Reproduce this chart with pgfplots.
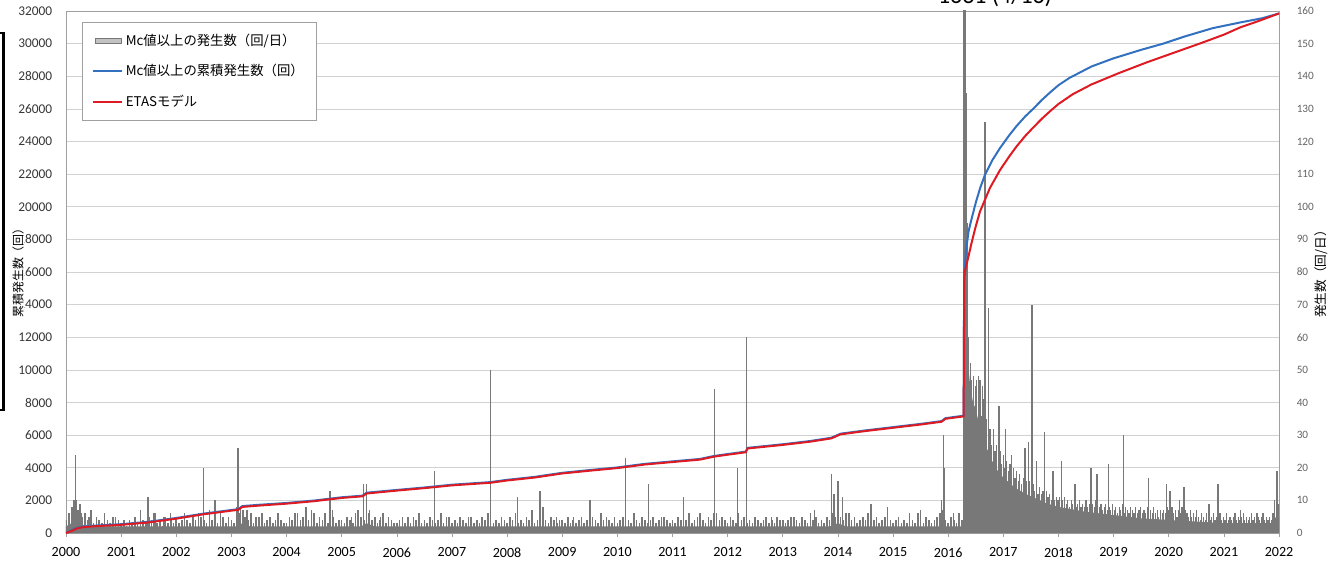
\documentclass[border=0pt]{standalone}
\usepackage{pgfplots}
\pgfplotsset{compat=1.18}
\usepackage{fontspec}
\setmainfont{Carlito}
\newfontfamily\jp{Noto Sans CJK JP}

\definecolor{barg}{RGB}{120,120,120}
\definecolor{obsblue}{RGB}{50,112,192}
\definecolor{etasred}{RGB}{222,26,34}
\definecolor{gridg}{RGB}{210,210,210}
\definecolor{frameg}{RGB}{160,160,160}
\definecolor{tickg}{RGB}{100,100,100}
\definecolor{darkg}{RGB}{55,55,55}

\pgfplotsset{
  base/.style={
    at={(0,0)}, anchor=south west,
    width=303.25mm, height=130.5mm, scale only axis,
    xmin=2000, xmax=2022,
    /pgf/number format/assume math mode=true,
    /pgf/number format/1000 sep={},
  },
  lineleg/.style={legend image code/.code={\draw[##1] (0mm,0mm) -- (7.25mm,0mm);}},
}

\begin{document}
\begin{tikzpicture}
\useasboundingbox (-16.5mm,-6.75mm) rectangle (319mm,133.25mm);

% daily counts (right axis)
\begin{axis}[base,
  ymin=0, ymax=160,
  xtick={2000,2001,...,2022}, ytick={0,10,...,160},
  xtick pos=left, ytick pos=right, yticklabel pos=right,
  tick align=outside, major tick length=1mm,
  ytick style={draw=none}, xtick style={draw=frameg, line width=0.4pt},
  axis line style={draw=frameg, line width=0.5pt},
  ymajorgrids, grid style={draw=gridg, line width=0.4pt},
  xticklabel style={font=\fontsize{10}{12}\selectfont, text=black, yshift=-1.4mm},
  yticklabel style={font=\fontsize{8}{10}\selectfont, text=tickg, xshift=2.2mm},
]
% solid mass of daily bars
\addplot[fill=barg, draw=none] coordinates {
  (2000,2)(2000.15,3.5)(2000.3,2.5)(2000.5,2)(2003.1,2)(2003.2,3)(2003.35,2)
  (2005.35,2)(2005.45,3)(2005.6,2)(2013.85,2)(2014.0,3)(2014.15,2)
  (2016.27,2)(2016.30,85)(2016.33,62)(2016.36,52)(2016.40,45)(2016.45,40)
  (2016.50,38)(2016.55,34)(2016.60,31)(2016.65,28)(2016.70,26)(2016.80,22)
  (2016.90,19)(2017.00,17)(2017.20,14)(2017.40,12)(2017.60,10.5)(2017.80,9)
  (2018.00,8)(2018.50,6.5)(2019.00,5.5)(2019.50,4.5)(2020.00,4)(2020.50,3.5)
  (2021.00,3)(2021.50,3)(2021.85,3)(2021.95,5)(2022,5)
} \closedcycle;
% daily bars 2000-2016
\addplot[ycomb, draw=barg, line width=0.4mm] table[header=false, row sep=\\,
  x expr={2000+0.05*\coordindex}, y index=0] {
4\\6\\8\\10\\7\\9\\5\\6\\4\\7\\3\\5\\4\\3\\6\\4\\3\\5\\3\\4\\
3\\4\\2\\4\\3\\5\\3\\7\\4\\3\\5\\4\\6\\3\\4\\2\\5\\3\\4\\3\\
5\\3\\4\\6\\4\\3\\5\\4\\6\\5\\4\\3\\7\\4\\5\\3\\6\\4\\3\\5\\
4\\3\\8\\6\\7\\5\\4\\6\\3\\5\\4\\6\\3\\4\\5\\3\\4\\6\\4\\3\\
3\\5\\4\\3\\6\\4\\5\\3\\4\\7\\4\\3\\5\\4\\6\\3\\4\\5\\3\\4\\
4\\3\\5\\4\\3\\6\\7\\5\\4\\3\\6\\4\\5\\3\\4\\6\\3\\5\\4\\3\\
3\\4\\5\\3\\4\\3\\5\\4\\6\\3\\4\\3\\5\\4\\3\\4\\6\\3\\4\\5\\
3\\4\\3\\5\\4\\3\\4\\5\\3\\4\\3\\5\\4\\6\\4\\3\\4\\3\\5\\4\\
3\\5\\4\\6\\3\\4\\3\\5\\4\\7\\3\\4\\5\\3\\4\\3\\5\\4\\3\\4\\
4\\3\\5\\3\\4\\3\\4\\5\\3\\4\\3\\5\\4\\3\\6\\4\\3\\4\\3\\5\\
3\\4\\5\\3\\4\\3\\6\\4\\3\\5\\4\\3\\4\\5\\3\\4\\3\\5\\4\\3\\
4\\3\\5\\4\\3\\4\\6\\3\\4\\5\\3\\4\\3\\5\\4\\6\\3\\4\\5\\4\\
3\\5\\4\\3\\6\\4\\5\\3\\4\\3\\5\\4\\3\\4\\5\\3\\4\\3\\5\\4\\
4\\3\\4\\5\\3\\4\\3\\5\\4\\3\\6\\4\\5\\3\\4\\3\\5\\4\\6\\5\\
6\\5\\4\\6\\3\\4\\5\\3\\4\\5\\4\\6\\3\\4\\5\\3\\4\\5\\3\\4\\
3\\4\\5\\3\\4\\3\\5\\4\\3\\6\\4\\3\\5\\4\\3\\4\\5\\6\\7\\4\\
3\\5\\4\\3\\6\\4\\
};
% daily bars after the 2016 mainshock
\addplot[ycomb, draw=barg, line width=0.3mm] table[header=false, row sep=\\,
  x expr={2016.31+0.03*\coordindex}, y index=0] {
90\\72\\60\\52\\47\\48\\45\\47\\40\\38\\
36\\41\\33\\35\\30\\32\\27\\29\\25\\27\\
23\\25\\21\\24\\20\\22\\19\\21\\18\\20\\
17\\19\\16\\18\\15\\17\\15\\16\\14\\16\\
13\\15\\13\\14\\12\\14\\12\\13\\11\\13\\
11\\12\\10\\12\\10\\11\\10\\11\\9\\10\\
11\\9\\10\\8\\10\\9\\11\\8\\9\\10\\
8\\9\\8\\10\\8\\9\\7\\9\\8\\10\\
7\\8\\9\\7\\8\\9\\7\\8\\7\\9\\
7\\8\\6\\8\\7\\9\\6\\8\\7\\6\\
8\\7\\6\\8\\6\\7\\8\\6\\7\\6\\
8\\6\\7\\6\\8\\6\\7\\5\\7\\6\\
7\\6\\8\\7\\6\\8\\6\\7\\5\\7\\
6\\8\\5\\7\\6\\5\\7\\5\\6\\5\\
7\\5\\4\\6\\5\\4\\6\\5\\4\\5\\
6\\4\\5\\4\\6\\4\\5\\4\\6\\4\\
5\\4\\5\\6\\4\\5\\4\\5\\6\\4\\
5\\4\\5\\6\\4\\5\\4\\5\\4\\5\\
6\\4\\5\\4\\5\\4\\6\\8\\10\\9\\
};
% isolated tall days
\addplot[ycomb, draw=barg, line width=0.35mm] coordinates {
  (2000.12,8)(2000.17,24)(2000.19,10)(2000.22,7)(2000.27,6)(2000.42,5)
  (2000.9,5)(2001.15,4)(2001.49,11)(2001.62,6)(2001.78,5)(2001.9,6)
  (2002.15,6)(2002.49,20)(2002.6,6)(2002.7,10)(2002.85,5)
  (2003.12,26)(2003.17,8)(2003.22,7)(2003.28,7)(2003.5,5)
  (2003.9,4)(2004.15,6)(2004.35,8)(2004.5,6)(2004.79,13)(2004.83,7)
  (2005.18,5)(2005.4,15)(2005.45,15)(2005.5,7)(2005.7,5)
  (2006.2,5)(2006.68,19)(2006.9,5)
  (2007.3,5)(2007.7,50)(2007.9,4)
  (2008.19,11)(2008.6,13)(2008.65,8)(2008.9,5)
  (2009.2,5)(2009.5,10)(2009.8,5)
  (2010.15,23)(2010.3,5)(2010.56,15)(2010.8,5)
  (2011.2,11)(2011.5,6)(2011.76,44)(2011.8,6)
  (2012.18,20)(2012.34,60)(2012.5,5)(2012.8,5)
  (2013.2,5)(2013.57,7)(2013.88,18)(2013.93,12)(2014.0,16)(2014.08,11)(2014.2,6)
  (2014.6,9)(2014.9,8)(2015.3,6)(2015.5,7)(2015.88,10)(2015.91,30)(2015.93,20)
  (2016.1,6)(2016.2,5)
  (2016.55,48)(2016.58,47)(2016.62,45)(2016.67,126)(2016.73,69)(2016.82,32)
  (2016.92,39)(2017.04,32)(2017.15,24)(2017.39,26)(2017.46,28)(2017.52,70)
  (2017.6,22)(2017.75,31)(2017.9,19)(2018.05,22)(2018.3,15)(2018.59,20)
  (2018.7,18)(2018.91,21)(2019.18,30)(2019.63,17)(2019.96,15)(2020.02,13)
  (2020.2,10)(2020.28,14)(2020.73,9)(2020.89,15)(2021.3,7)(2021.6,6)
  (2021.92,10)(2021.96,19)
};
% mainshock days
\addplot[ycomb, draw=barg, line width=0.45mm] coordinates {
  (2016.290,170)(2016.300,1631)(2016.310,170)(2016.325,135)(2016.335,95)
};
\end{axis}

% cumulative counts (left axis)
\begin{axis}[base,
  ymin=0, ymax=32000,
  hide x axis, axis y line*=left, axis line style={draw=none},
  ytick={0,2000,...,32000}, ytick style={draw=none},
  scaled y ticks=false,
  yticklabel style={font=\fontsize{9.5}{11}\selectfont, text=darkg, xshift=-2.2mm},
  legend cell align=left,
  legend style={at={(0.0129,0.9795)}, anchor=north west,
    draw=frameg, line width=0.5pt, fill=white, text=black,
    font=\fontsize{9.5}{11.5}\selectfont\jp,
    inner xsep=2.5mm, inner ysep=2.3mm, row sep=2.8mm},
]
\addlegendimage{legend image code/.code={\draw[fill=barg!45, draw=barg, line width=0.4pt] (0.6mm,-0.65mm) rectangle (7mm,0.65mm);}}
\addlegendentry{Mc値以上の発生数（回/日）\hspace*{2mm}}

\addplot[obsblue, line width=0.5mm, lineleg] coordinates {
  (2000,0)(2000.1,160)(2000.2,320)(2000.3,390)(2000.5,450)(2001,540)(2001.5,690)
  (2002,920)(2002.5,1190)(2003,1410)(2003.12,1460)(2003.2,1650)(2003.5,1730)
  (2004,1840)(2004.5,1990)(2005,2190)(2005.38,2290)(2005.45,2470)(2006,2640)
  (2006.5,2790)(2007,2960)(2007.7,3120)(2008,3260)(2008.5,3440)(2009,3690)
  (2009.5,3860)(2010,4020)(2010.5,4240)(2011,4390)(2011.5,4540)(2011.75,4720)
  (2012,4840)(2012.33,4990)(2012.36,5220)(2013,5440)(2013.5,5640)(2013.88,5840)
  (2014.05,6090)(2014.5,6290)(2015,6490)(2015.5,6690)(2015.88,6860)(2015.95,7040)
  (2016.28,7190)(2016.29,16000)(2016.33,17500)(2016.37,18500)(2016.425,19270)
  (2016.5,20250)(2016.58,21150)(2016.666,21950)(2016.8,22850)(2016.94,23600)
  (2017.1,24350)(2017.24,24950)(2017.4,25550)(2017.54,26000)(2017.7,26550)
  (2017.845,27000)(2018.0,27450)(2018.2,27900)(2018.4,28250)(2018.6,28600)
  (2019.0,29100)(2019.5,29620)(2019.9,30000)(2020.3,30450)(2020.8,30950)
  (2021.3,31300)(2021.7,31560)(2022,31850)
};
\addlegendentry{Mc値以上の累積発生数（回）}

\addplot[etasred, line width=0.5mm, lineleg] coordinates {
  (2000,0)(2000.1,120)(2000.2,280)(2000.3,350)(2000.5,410)(2001,500)(2001.5,650)
  (2002,880)(2002.5,1150)(2003,1370)(2003.12,1420)(2003.2,1600)(2003.5,1680)
  (2004,1800)(2004.5,1950)(2005,2150)(2005.38,2250)(2005.45,2420)(2006,2600)
  (2006.5,2750)(2007,2920)(2007.7,3080)(2008,3220)(2008.5,3400)(2009,3650)
  (2009.5,3820)(2010,3980)(2010.5,4200)(2011,4350)(2011.5,4500)(2011.75,4680)
  (2012,4800)(2012.33,4950)(2012.36,5180)(2013,5400)(2013.5,5600)(2013.88,5800)
  (2014.05,6050)(2014.5,6250)(2015,6450)(2015.5,6650)(2015.88,6820)(2015.95,7000)
  (2016.28,7150)(2016.29,15400)(2016.30,16000)(2016.364,16900)(2016.425,17800)
  (2016.5,18800)(2016.576,19700)(2016.757,21150)(2016.94,22250)(2017.1,23050)
  (2017.24,23700)(2017.4,24350)(2017.54,24850)(2017.7,25400)(2017.845,25850)
  (2018.0,26300)(2018.26,26900)(2018.6,27500)(2019.1,28200)(2019.6,28850)
  (2020.1,29450)(2020.6,30050)(2021.0,30550)(2021.3,31000)(2021.6,31350)(2022,31850)
};
\addlegendentry{ETASモデル}
\end{axis}

\node[font=\fontsize{8.5}{10}\selectfont\jp, rotate=90, fill=white, inner sep=0pt]
  at (-12mm,65.75mm) {累積発生数（回）};
\node[font=\fontsize{9}{11}\selectfont\jp, rotate=90] at (313.75mm,65.5mm) {発生数（回/日）};
\node[font=\fontsize{17}{20}\selectfont, anchor=base] at (232.25mm,132.25mm) {1631 (4/16)};
\draw[line width=0.7mm] (-17mm,125mm) -- (-15.6mm,125mm) -- (-15.6mm,30.75mm) -- (-17mm,30.75mm);
\end{tikzpicture}
\end{document}
